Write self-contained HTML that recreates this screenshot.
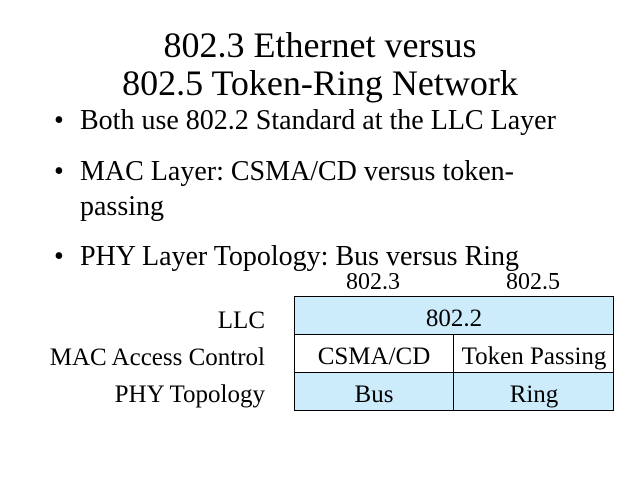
<!DOCTYPE html>
<html><head><style>body{margin:0;background:#fff}svg{display:block}</style></head><body>
<svg width="640" height="480" xmlns="http://www.w3.org/2000/svg" font-family="Liberation Serif, serif" fill="#000">
<rect width="640" height="480" fill="#fff"/>
<text x="320" y="57" font-size="36" text-anchor="middle">802.3 Ethernet versus</text>
<text x="320" y="95" font-size="36" text-anchor="middle">802.5 Token-Ring Network</text>
<g font-size="28">
<text x="54" y="129">•</text><text x="80" y="129">Both use 802.2 Standard at the LLC Layer</text>
<text x="54" y="180">•</text><text x="80" y="180">MAC Layer: CSMA/CD versus token-</text>
<text x="80" y="215">passing</text>
<text x="54" y="265">•</text><text x="80" y="265">PHY Layer Topology: Bus versus Ring</text>
</g>
<g font-size="24" text-anchor="middle">
<text x="373" y="289">802.3</text>
<text x="533" y="289">802.5</text>
</g>
<g font-size="25" text-anchor="end">
<text x="265" y="328">LLC</text>
<text x="265" y="365">MAC Access Control</text>
<text x="265" y="402">PHY Topology</text>
</g>
<g stroke="#000" stroke-width="1">
<rect x="294.5" y="296.5" width="319" height="38" fill="#ccecfc"/>
<rect x="294.5" y="334.5" width="319" height="38" fill="#fff"/>
<rect x="294.5" y="372.5" width="319" height="38" fill="#ccecfc"/>
<line x1="453.5" y1="334.5" x2="453.5" y2="410.5"/>
</g>
<g font-size="25" text-anchor="middle">
<text x="454" y="326">802.2</text>
<text x="374" y="364">CSMA/CD</text>
<text x="534" y="364">Token Passing</text>
<text x="374" y="402">Bus</text>
<text x="534" y="402">Ring</text>
</g>
</svg>
</body></html>
